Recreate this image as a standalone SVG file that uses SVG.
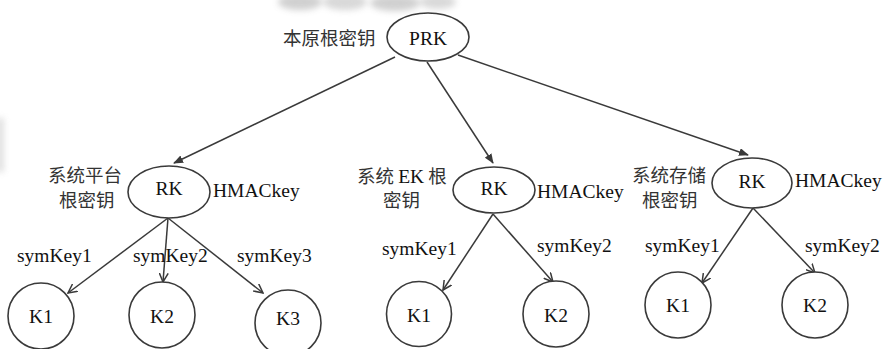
<svg xmlns="http://www.w3.org/2000/svg" width="885" height="349" viewBox="0 0 885 349">
<style>
.shape{fill:#fff;stroke:#3a3a3a;stroke-width:1.6}
.edge{fill:none;stroke:#3a3a3a;stroke-width:1.5}
.lat{font-family:"Liberation Serif","Times New Roman",serif;font-size:19.5px;fill:#111}
.cjk{font-family:"Noto Sans CJK SC","Noto Sans",sans-serif;font-size:18.5px;fill:#333}
.mid{text-anchor:middle}
</style>
<defs>
<marker id="tri" markerWidth="10" markerHeight="8" refX="9" refY="4" orient="auto" markerUnits="userSpaceOnUse">
<path d="M0,0 L10,4 L0,8 z" fill="#3a3a3a"/>
</marker>
<marker id="vee" markerWidth="10" markerHeight="10" refX="9" refY="5" orient="auto" markerUnits="userSpaceOnUse">
<path d="M0,0.5 L9,5 L0,9.5" fill="none" stroke="#3a3a3a" stroke-width="1.5"/>
</marker>
<filter id="blur" x="-20%" y="-50%" width="140%" height="200%"><feGaussianBlur stdDeviation="3"/></filter>
</defs>
<rect width="885" height="349" fill="#fff"/>
<g id="scan-marks" filter="url(#blur)" opacity="0.45">
<ellipse cx="300" cy="2" rx="22" ry="8" fill="#999"/>
<ellipse cx="345" cy="2" rx="22" ry="8" fill="#aaa"/>
<ellipse cx="395" cy="3" rx="25" ry="8" fill="#999"/>
<ellipse cx="438" cy="2" rx="18" ry="7" fill="#aaa"/>
<rect x="-4" y="118" width="8" height="54" fill="#bbb"/>
</g>
<g id="connectors">
<line class="edge" x1="395" y1="57" x2="174" y2="163" marker-end="url(#tri)"/>
<line class="edge" x1="427" y1="62" x2="493" y2="163" marker-end="url(#tri)"/>
<line class="edge" x1="458" y1="55" x2="748" y2="155" marker-end="url(#tri)"/>
<line class="edge" x1="168" y1="218" x2="68" y2="293" marker-end="url(#vee)"/>
<line class="edge" x1="168" y1="218" x2="163" y2="282" marker-end="url(#vee)"/>
<line class="edge" x1="168" y1="218" x2="263" y2="293" marker-end="url(#vee)"/>
<line class="edge" x1="493" y1="214" x2="443" y2="290" marker-end="url(#vee)"/>
<line class="edge" x1="493" y1="214" x2="553" y2="282" marker-end="url(#vee)"/>
<line class="edge" x1="753" y1="208" x2="702" y2="283" marker-end="url(#vee)"/>
<line class="edge" x1="753" y1="208" x2="815" y2="273" marker-end="url(#vee)"/>
</g>
<g id="PRK">
<ellipse class="shape" cx="428" cy="37" rx="41" ry="24"/>
<text class="lat mid" x="428" y="45">PRK</text>
<text class="cjk" x="283" y="45">本原根密钥</text>
</g>
<g id="RK-platform">
<ellipse class="shape" cx="169" cy="192" rx="41" ry="26"/>
<text class="lat mid" x="169" y="195">RK</text>
<text class="cjk" x="48" y="182">系统平台</text>
<text class="cjk" x="59" y="207">根密钥</text>
<text class="lat" x="213" y="197">HMACkey</text>
</g>
<g id="RK-EK">
<ellipse class="shape" cx="494" cy="190" rx="41" ry="23"/>
<text class="lat mid" x="494" y="195">RK</text>
<text class="cjk" x="357" y="183">系统 <tspan class="lat">EK</tspan> 根</text>
<text class="cjk" x="383" y="207">密钥</text>
<text class="lat" x="537" y="198">HMACkey</text>
</g>
<g id="RK-storage">
<ellipse class="shape" cx="752" cy="183" rx="40" ry="25"/>
<text class="lat mid" x="752" y="188">RK</text>
<text class="cjk" x="632" y="182">系统存储</text>
<text class="cjk" x="642" y="207">根密钥</text>
<text class="lat" x="795" y="187">HMACkey</text>
</g>
<g id="labels">
<text class="lat" x="17" y="262">symKey1</text>
<text class="lat" x="133" y="262">symKey2</text>
<text class="lat" x="237" y="262">symKey3</text>
<text class="lat" x="382" y="255">symKey1</text>
<text class="lat" x="537" y="252">symKey2</text>
<text class="lat" x="645" y="252">symKey1</text>
<text class="lat" x="805" y="252">symKey2</text>
</g>
<g id="K1-platform"><circle class="shape" cx="41" cy="316" r="33"/><text class="lat mid" x="41" y="323">K1</text></g>
<g id="K2-platform"><circle class="shape" cx="162" cy="315" r="33"/><text class="lat mid" x="162" y="323">K2</text></g>
<g id="K3-platform"><circle class="shape" cx="288" cy="323" r="33"/><text class="lat mid" x="288" y="325">K3</text></g>
<g id="K1-EK"><circle class="shape" cx="419" cy="314" r="32.5"/><text class="lat mid" x="419" y="322">K1</text></g>
<g id="K2-EK"><circle class="shape" cx="556" cy="314" r="33"/><text class="lat mid" x="556" y="322">K2</text></g>
<g id="K1-storage"><circle class="shape" cx="678" cy="305" r="33"/><text class="lat mid" x="678" y="312">K1</text></g>
<g id="K2-storage"><circle class="shape" cx="815" cy="305" r="33"/><text class="lat mid" x="815" y="312">K2</text></g>
</svg>
